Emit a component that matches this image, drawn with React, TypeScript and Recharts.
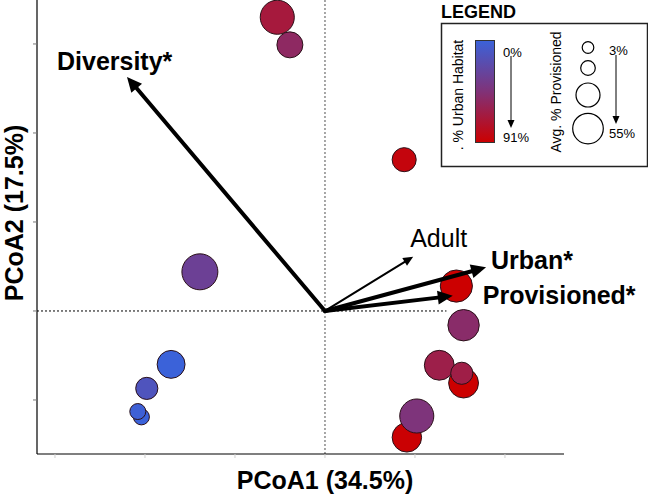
import React from 'react';
import { ScatterChart, Scatter, XAxis, YAxis, ReferenceLine } from 'recharts';

// PCoA sample scores (axis 1, axis 2)
const pcoa1 = [-0.53, -0.39, 0.88, -1.39, -1.71, -1.98, -2.04, -2.08, 1.46, 1.54, 1.27, 1.54, 1.52, 0.91, 1.02];
const pcoa2 = [3.3, 2.99, 1.7, 0.44, -0.6, -0.87, -1.19, -1.13, 0.28, -0.16, -0.61, -0.81, -0.7, -1.42, -1.18];
// % urban habitat (colour) and average % provisioned (size)
const urbanPct = [68, 54, 86, 32, 0, 13, 0, 2, 91, 51, 63, 91, 64, 90, 44];
const provisionedPct = [50, 29, 24, 55, 34, 19, 3, 3, 45, 43, 39, 39, 19, 38, 50];

const xTicks = [-3, -2, -1, 0, 1, 2];
const yTicks = [-1, 0, 1, 2, 3];

// fitted vectors
const vectorNames = ['Diversity*', 'Adult', 'Urban*', 'Provisioned*'];
const vectorX = [-2.2, 0.98, 1.79, 1.42];
const vectorY = [2.63, 0.61, 0.49, 0.17];

const X_DOMAIN: [number, number] = [-3.2, 2.656];
const Y_DOMAIN: [number, number] = [-1.607, 3.494];

const points = pcoa1.map((x, i) => ({ x, y: pcoa2[i], urban: urbanPct[i], prov: provisionedPct[i] }));

const STOPS = [
  [59, 98, 217],
  [128, 50, 120],
  [204, 0, 0],
];
function urbanColor(u: number) {
  const t = Math.max(0, Math.min(1, u / 91));
  const seg = t < 0.5 ? 0 : 1;
  const s = seg === 0 ? t / 0.5 : (t - 0.5) / 0.5;
  const a = STOPS[seg];
  const b = STOPS[seg + 1];
  const c = a.map((v, k) => Math.round(v + (b[k] - v) * s));
  return `rgb(${c[0]},${c[1]},${c[2]})`;
}
function provRadius(p: number) {
  return 8 + ((p - 3) * 10) / 52;
}

const Bubble = (props: any) => {
  const { cx, cy, payload } = props;
  if (cx == null || cy == null) return null;
  return (
    <circle cx={cx} cy={cy} r={provRadius(payload.prov)} fill={urbanColor(payload.urban)} stroke="#2a1018" strokeWidth={1} />
  );
};

const labelStyle: Record<string, { dx: number; dy: number; bold: boolean }> = {
  'Diversity*': { dx: -70, dy: -7, bold: true },
  Adult: { dx: -3, dy: -10, bold: false },
  'Urban*': { dx: 5, dy: 2, bold: true },
  'Provisioned*': { dx: 30, dy: 8, bold: true },
};

const makeArrow = (name: string) => (p: any) => {
  const { x1, y1, x2, y2 } = p;
  const st = labelStyle[name];
  const thick = st.bold;
  const w = thick ? 4 : 2;
  const hl = thick ? 15 : 10;
  const hw = thick ? 7 : 4.5;
  const dx = x2 - x1;
  const dy = y2 - y1;
  const len = Math.sqrt(dx * dx + dy * dy);
  const ux = dx / len;
  const uy = dy / len;
  const bx = x2 - ux * hl;
  const by = y2 - uy * hl;
  const px = -uy;
  const py = ux;
  const head = `${x2},${y2} ${bx + px * hw},${by + py * hw} ${bx - px * hw},${by - py * hw}`;
  return (
    <g>
      <line x1={x1} y1={y1} x2={bx + ux * 2} y2={by + uy * 2} stroke="#000" strokeWidth={w} strokeLinecap="round" />
      <polygon points={head} fill="#000" />
      <text
        x={x2 + st.dx}
        y={y2 + st.dy}
        fontFamily="'Liberation Sans', Arial, sans-serif"
        fontSize={25}
        fontWeight={st.bold ? 700 : 400}
        fill="#000"
      >
        {name}
      </text>
    </g>
  );
};

const FONT = "'Liberation Sans', Arial, sans-serif";

const Legend = () => (
  <svg width={648} height={494} style={{ position: 'absolute', left: 0, top: 0, pointerEvents: 'none' }}>
    <defs>
      <linearGradient id="urbGrad" x1="0" y1="0" x2="0" y2="1">
        <stop offset="0%" stopColor="rgb(59,98,217)" />
        <stop offset="50%" stopColor="rgb(128,50,120)" />
        <stop offset="100%" stopColor="rgb(204,0,0)" />
      </linearGradient>
    </defs>
    <text x={441} y={18} fontFamily={FONT} fontSize={18} fontWeight={700} fill="#000">LEGEND</text>
    <rect x={441.5} y={23.5} width={206} height={143} fill="#fff" stroke="#222" strokeWidth={1.5} />
    <rect x={475.5} y={40.5} width={19} height={102} fill="url(#urbGrad)" stroke="#333" strokeWidth={1} />
    <text x={463} y={95} transform="rotate(-90 463 95)" textAnchor="middle" fontFamily={FONT} fontSize={14} fill="#000">. % Urban Habitat</text>
    <text x={503} y={57} fontFamily={FONT} fontSize={13} fill="#000">0%</text>
    <text x={503} y={142} fontFamily={FONT} fontSize={13} fill="#000">91%</text>
    <line x1={511} y1={56} x2={511} y2={121} stroke="#000" strokeWidth={1} />
    <polygon points="511,128 507.5,120 514.5,120" fill="#000" />
    <text x={561} y={92} transform="rotate(-90 561 92)" textAnchor="middle" fontFamily={FONT} fontSize={14} fill="#000">Avg. % Provisioned</text>
    <circle cx={588} cy={47.5} r={5.8} fill="#fff" stroke="#000" strokeWidth={1.2} />
    <circle cx={588} cy={68} r={7.3} fill="#fff" stroke="#000" strokeWidth={1.2} />
    <circle cx={588} cy={95} r={12} fill="#fff" stroke="#000" strokeWidth={1.2} />
    <circle cx={588} cy={128.6} r={15.3} fill="#fff" stroke="#000" strokeWidth={1.2} />
    <text x={609} y={55} fontFamily={FONT} fontSize={13} fill="#000">3%</text>
    <text x={609} y={138} fontFamily={FONT} fontSize={13} fill="#000">55%</text>
    <line x1={616} y1={55} x2={616} y2={117} stroke="#000" strokeWidth={1} />
    <polygon points="616,124 612.5,116 619.5,116" fill="#000" />
  </svg>
);

export default function App() {
  return (
    <div style={{ position: 'absolute', left: 0, top: 0, width: 648, height: 494, background: '#fff' }}>
      <ScatterChart width={648} height={494} margin={{ top: 0, right: 84, bottom: 0, left: 7 }}>
        <XAxis
          type="number"
          dataKey="x"
          domain={X_DOMAIN}
          ticks={xTicks}
          allowDataOverflow
          tickFormatter={() => ''}
          axisLine={{ stroke: '#000', strokeWidth: 1.2 }}
          tickLine={{ stroke: '#cfcfcf' }}
          tickSize={4}
          height={40}
          label={{
            content: () => (
              <text x={325} y={489} textAnchor="middle" fontFamily={FONT} fontSize={25} fontWeight={700} fill="#000">
                PCoA1 (34.5%)
              </text>
            ),
          }}
        />
        <YAxis
          type="number"
          dataKey="y"
          domain={Y_DOMAIN}
          ticks={yTicks}
          allowDataOverflow
          tickFormatter={() => ''}
          axisLine={{ stroke: '#000', strokeWidth: 1.2 }}
          tickLine={{ stroke: '#777' }}
          tickSize={4}
          width={30}
          label={{
            content: () => (
              <text x={23} y={213} transform="rotate(-90 23 213)" textAnchor="middle" fontFamily={FONT} fontSize={25} fontWeight={700} fill="#000">
                PCoA2 (17.5%)
              </text>
            ),
          }}
        />
        <ReferenceLine x={0} stroke="#8a8a8a" strokeWidth={1.5} strokeDasharray="2 2" />
        <ReferenceLine
          segment={[
            { x: X_DOMAIN[0], y: 0 },
            { x: 1.35, y: 0 },
          ]}
          stroke="#000"
          strokeWidth={1}
          strokeDasharray="2 2"
        />
        <Scatter data={points} shape={<Bubble />} isAnimationActive={false} />
        {vectorNames.map((name, i) => (
          <ReferenceLine
            key={name}
            segment={[
              { x: 0, y: 0 },
              { x: vectorX[i], y: vectorY[i] },
            ]}
            stroke="#000"
            zIndex={1000}
            shape={makeArrow(name)}
          />
        ))}
      </ScatterChart>
      <Legend />
    </div>
  );
}
